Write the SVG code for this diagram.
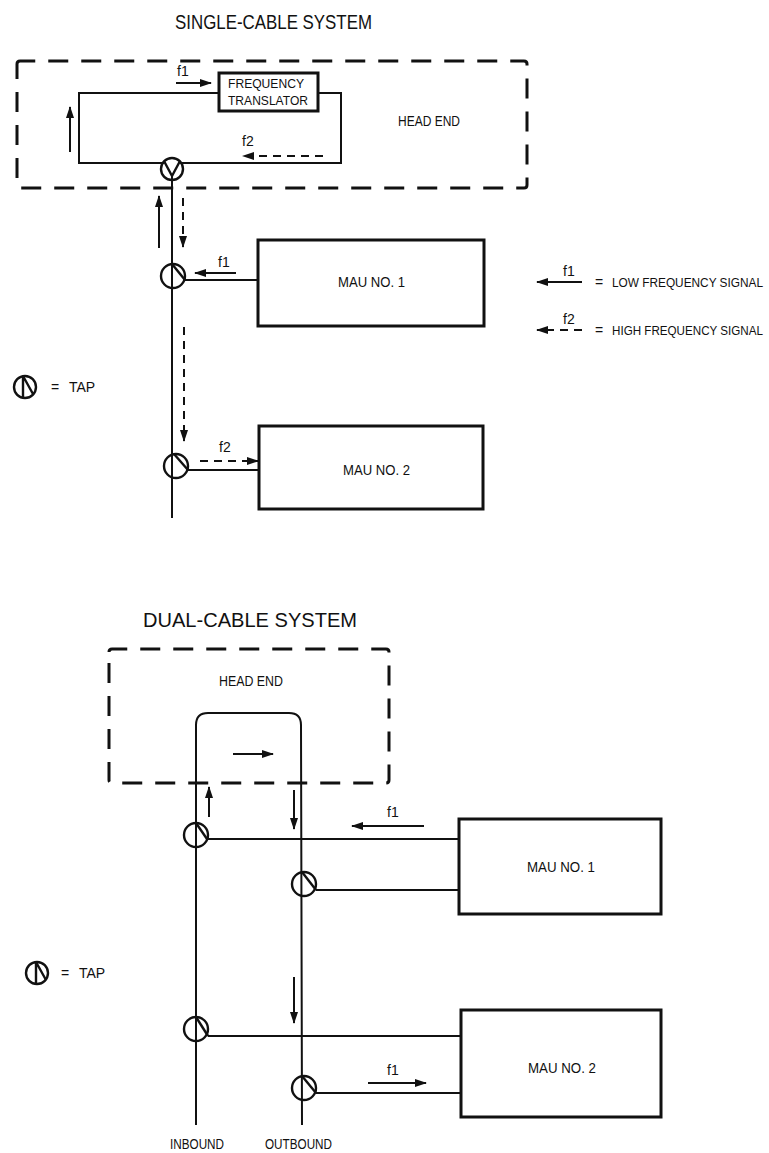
<svg xmlns="http://www.w3.org/2000/svg" width="769" height="1153" viewBox="0 0 769 1153">
<style>
text{font-family:"Liberation Sans Narrow","Liberation Sans",Arial,sans-serif;fill:#111;}
.t{font-size:21px;}
.s{font-size:14px;}
.l{font-size:12px;}
.m{font-size:15px;}
.f{font-size:13px;}
.ln{stroke:#111;stroke-width:2;fill:none;}
.box{stroke:#111;stroke-width:3;fill:none;}
.hb{stroke:#111;stroke-width:3;fill:none;stroke-dasharray:20 13;}
.ar{stroke:#111;stroke-width:2;fill:none;marker-end:url(#ah);}
.da{stroke:#111;stroke-width:2;fill:none;stroke-dasharray:8 6;marker-end:url(#ah);}
.tap{stroke:#111;stroke-width:2.4;fill:none;}
</style>
<defs>
<marker id="ah" markerUnits="userSpaceOnUse" markerWidth="12" markerHeight="10" refX="11" refY="4" orient="auto">
<path d="M0,0 L12,4 L0,8 Z" fill="#111"/>
</marker>
</defs>
<rect width="769" height="1153" fill="#fff"/>

<!-- SINGLE-CABLE SYSTEM -->
<text class="t" x="175" y="29" textLength="197" lengthAdjust="spacingAndGlyphs">SINGLE-CABLE SYSTEM</text>

<g id="headend1">
<path class="hb" d="M17,64 Q17,61 20,61 L524,61 Q527,61 527,64 L527,185 Q527,188 524,188 L20,188 Q17,188 17,185 Z"/>
<text class="s" x="398" y="126" textLength="62" lengthAdjust="spacingAndGlyphs">HEAD END</text>
</g>

<g id="translator">
<rect class="box" x="219" y="73" width="99" height="38"/>
<text class="f" x="228" y="88" textLength="76" lengthAdjust="spacingAndGlyphs">FREQUENCY</text>
<text class="f" x="228" y="105" textLength="80" lengthAdjust="spacingAndGlyphs">TRANSLATOR</text>
</g>

<g id="mau1a">
<rect class="box" x="258" y="240" width="226" height="86"/>
<text class="m" x="338" y="287" textLength="67" lengthAdjust="spacingAndGlyphs">MAU NO. 1</text>
</g>

<g id="mau2a">
<rect class="box" x="259" y="426" width="224" height="83"/>
<text class="m" x="343" y="475" textLength="67" lengthAdjust="spacingAndGlyphs">MAU NO. 2</text>
</g>

<g id="taps1">
<circle class="tap" cx="172" cy="169" r="11"/>
<path class="tap" d="M164,161 L172,176 L180,161"/>
<circle class="tap" cx="173" cy="276" r="12"/>
<path class="tap" d="M172,264 L185,280"/>
<circle class="tap" cx="176" cy="466" r="12"/>
<path class="tap" d="M174,454 L188,470"/>
</g>

<g id="connectors1">
<path class="ln" d="M164,163 L79,163 L79,93 L219,93"/>
<path class="ln" d="M318,93 L341,93 L341,163 L180,163"/>
<path class="ln" d="M172,176 L172,518"/>
<path class="ln" d="M185,280 L258,280"/>
<path class="ln" d="M188,470 L259,470"/>
<path class="ar" d="M176,83 L211,83"/>
<path class="ar" d="M70,152 L70,107"/>
<path class="da" d="M323,156 L243,156"/>
<path class="ar" d="M159,248 L159,196"/>
<path class="da" d="M183,198 L183,247"/>
<path class="ar" d="M236,273 L195,273"/>
<path class="da" d="M184,327 L184,441"/>
<path class="da" d="M200,461 L258,461"/>
</g>
<text class="s" x="177" y="76">f1</text>
<text class="s" x="242" y="146">f2</text>
<text class="s" x="218" y="267">f1</text>
<text class="s" x="219" y="452">f2</text>

<g id="legend1">
<path class="ar" d="M582,282 L537,282"/>
<text class="s" x="563" y="276">f1</text>
<text class="s" x="595" y="287">=</text>
<text class="l" x="612" y="287" textLength="151" lengthAdjust="spacingAndGlyphs">LOW FREQUENCY SIGNAL</text>
<path class="da" d="M582,330 L537,330" stroke-dasharray="7 4"/>
<text class="s" x="563" y="324">f2</text>
<text class="s" x="595" y="335">=</text>
<text class="l" x="612" y="335" textLength="151" lengthAdjust="spacingAndGlyphs">HIGH FREQUENCY SIGNAL</text>
</g>

<g id="tapkey1">
<circle class="tap" cx="25" cy="387" r="11"/>
<path class="tap" d="M23,376 L23,398 M23,376 L33,394"/>
<text class="s" x="51" y="392">=</text>
<text class="s" x="69" y="392">TAP</text>
</g>

<!-- DUAL-CABLE SYSTEM -->
<text class="t" x="143" y="627" textLength="214" lengthAdjust="spacingAndGlyphs">DUAL-CABLE SYSTEM</text>

<g id="headend2">
<path class="hb" d="M109,652 Q109,649 112,649 L386,649 Q389,649 389,652 L389,780 Q389,783 386,783 L112,783 Q109,783 109,780 Z"/>
<text class="s" x="219" y="686" textLength="64" lengthAdjust="spacingAndGlyphs">HEAD END</text>
</g>

<g id="mau1b">
<rect class="box" x="459" y="819" width="202" height="95"/>
<text class="m" x="527" y="872" textLength="68" lengthAdjust="spacingAndGlyphs">MAU NO. 1</text>
</g>

<g id="mau2b">
<rect class="box" x="461" y="1010" width="200" height="107"/>
<text class="m" x="528" y="1073" textLength="68" lengthAdjust="spacingAndGlyphs">MAU NO. 2</text>
</g>

<g id="taps2">
<circle class="tap" cx="196" cy="835" r="12"/>
<path class="tap" d="M196,823 L207,839"/>
<circle class="tap" cx="304" cy="884" r="12"/>
<path class="tap" d="M302,872 L316,890"/>
<circle class="tap" cx="196" cy="1029" r="12"/>
<path class="tap" d="M196,1017 L208,1036"/>
<circle class="tap" cx="304" cy="1088" r="12"/>
<path class="tap" d="M302,1076 L316,1093"/>
</g>

<g id="connectors2">
<path class="ln" d="M196,1125 L196,725 Q196,713 208,713 L289,713 Q301,713 301,725 L302,1125"/>
<path class="ln" d="M207,839 L459,839"/>
<path class="ln" d="M316,890 L459,890"/>
<path class="ln" d="M208,1036 L461,1036"/>
<path class="ln" d="M316,1093 L461,1093"/>
<path class="ar" d="M233,754 L273,754"/>
<path class="ar" d="M209,817 L209,787"/>
<path class="ar" d="M294,790 L294,829"/>
<path class="ar" d="M424,826 L352,826"/>
<path class="ar" d="M294,977 L294,1023"/>
<path class="ar" d="M368,1083 L426,1083"/>
</g>
<text class="s" x="387" y="817">f1</text>
<text class="s" x="387" y="1075">f1</text>

<g id="tapkey2">
<circle class="tap" cx="37" cy="973" r="11"/>
<path class="tap" d="M36,962 L36,984 M36,962 L46,980"/>
<text class="s" x="61" y="978">=</text>
<text class="s" x="79" y="978">TAP</text>
</g>

<text class="s" x="170" y="1149" textLength="54" lengthAdjust="spacingAndGlyphs">INBOUND</text>
<text class="s" x="265" y="1149" textLength="67" lengthAdjust="spacingAndGlyphs">OUTBOUND</text>
</svg>
